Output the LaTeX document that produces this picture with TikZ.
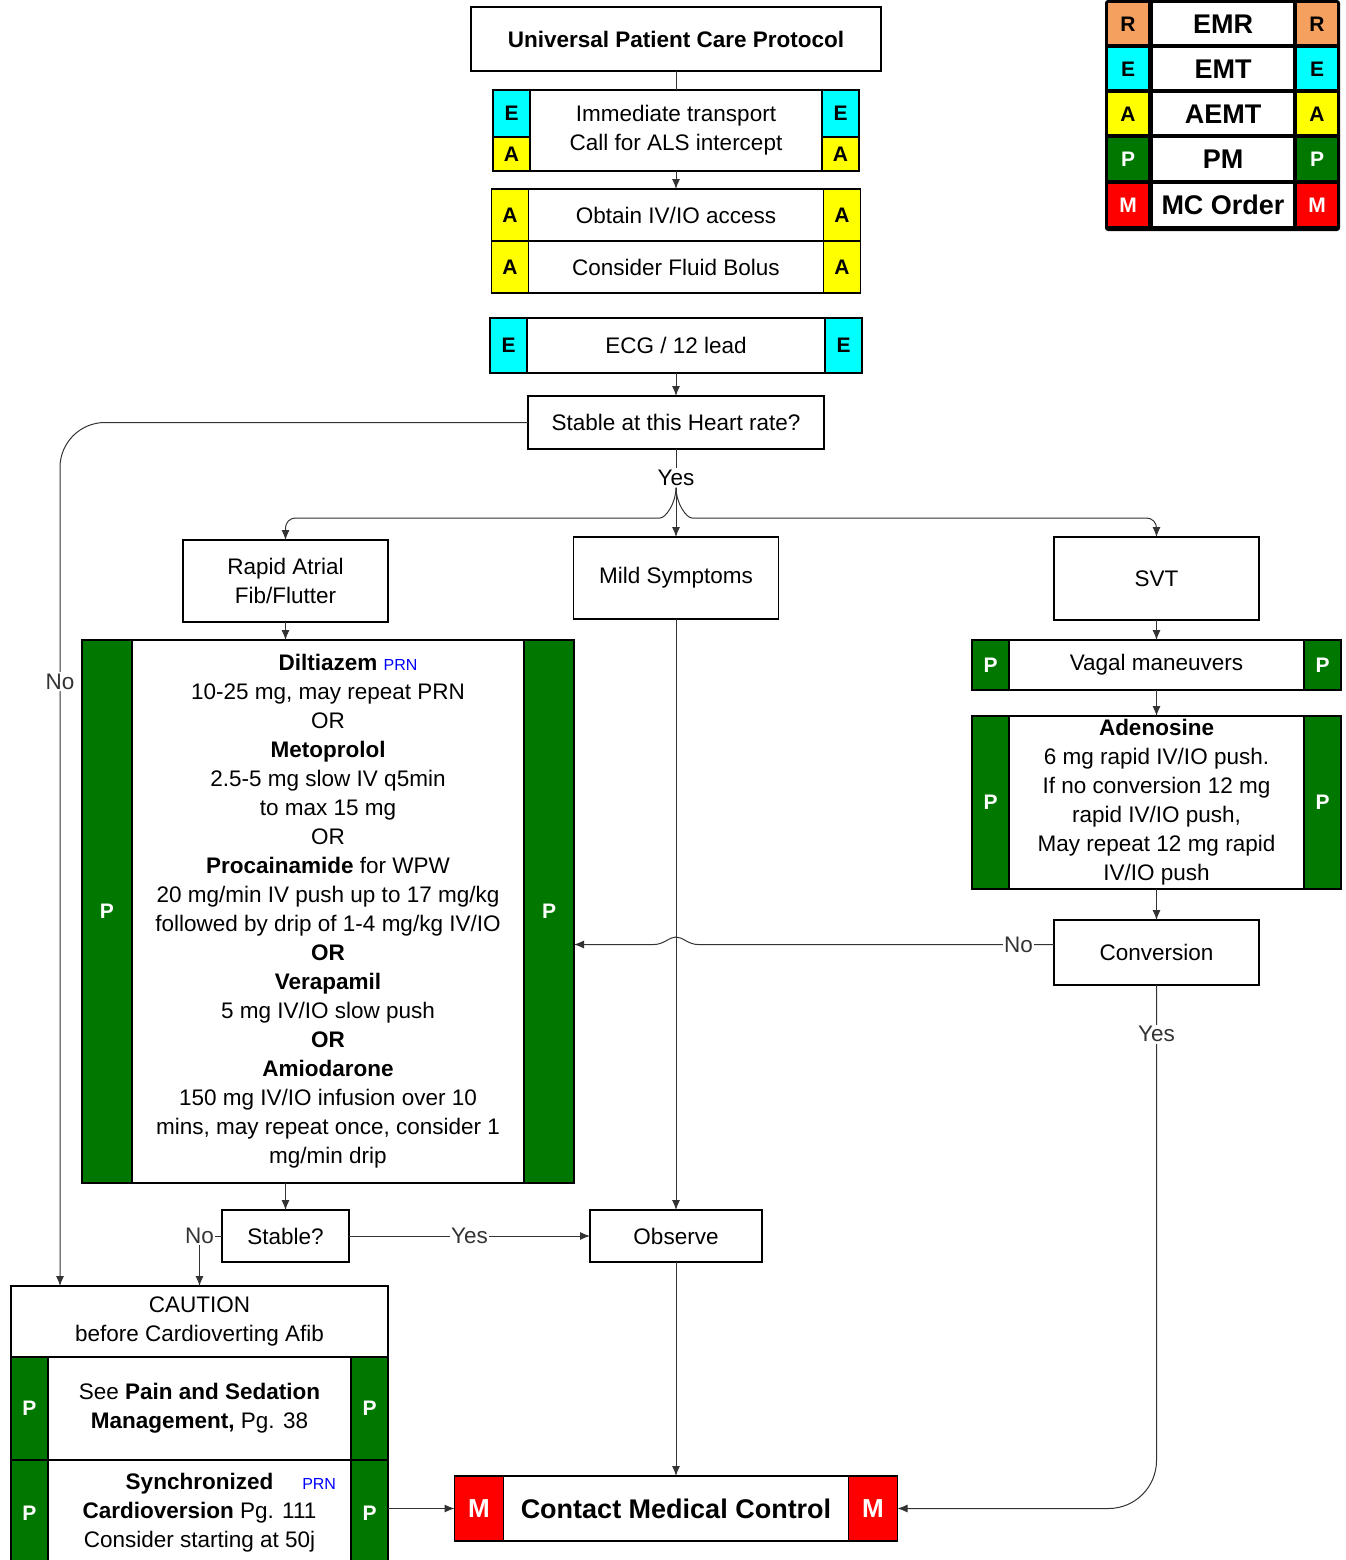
\documentclass[tikz,border=0pt]{standalone}
\usepackage{fontspec}
\setmainfont{Liberation Sans}
\usetikzlibrary{positioning, calc, arrows.meta}
\definecolor{pgreen}{RGB}{0,120,0}
\definecolor{rorange}{RGB}{245,160,95}
\definecolor{ecyan}{RGB}{0,255,255}
\definecolor{ayellow}{RGB}{255,255,0}
\definecolor{mred}{RGB}{255,0,0}
\tikzset{block/.style={draw, line width=1.5pt, fill=white, align=center, inner sep=0pt, outer sep=0pt, font=\fontsize{22.5}{29}\selectfont},
tag/.style={draw, line width=1.5pt, inner sep=0pt, outer sep=0pt, minimum width=37, font=\bfseries\fontsize{21}{21}\selectfont},
keytxt/.style={fill=white, inner sep=0pt, minimum width=140, minimum height=41, font=\bfseries\fontsize{27}{27}\selectfont},
conn/.style={line width=1pt, black!80},
line/.style={conn, -{Latex[length=10pt,width=8pt]}},
lbl/.style={fill=white, sharp corners, inner sep=1.5pt, font=\fontsize{22.5}{27}\selectfont}
}
\newcommand{\prnmark}{{\fontsize{16}{16}\selectfont\color{blue}PRN}}

\begin{document}
\begin{tikzpicture}[x=1pt, y=-1pt]
\useasboundingbox (0,0) rectangle (1345,1560);
% key
\node[fill=black, rounded corners=3pt, minimum width=235, minimum height=231] (key) at (1222.5,115.5) {};
\node[tag, draw=none, fill=rorange, minimum width=40, minimum height=41] (kr1) at (1128,24) {R};
\node[keytxt] (kr) at (1223,24) {EMR};
\node[tag, draw=none, fill=rorange, minimum width=40, minimum height=41] (kr2) at (1317,24) {R};
\node[tag, draw=none, fill=ecyan, minimum width=40, minimum height=41] (ke1) at (1128,69) {E};
\node[keytxt] (ke) at (1223,69) {EMT};
\node[tag, draw=none, fill=ecyan, minimum width=40, minimum height=41] (ke2) at (1317,69) {E};
\node[tag, draw=none, fill=ayellow, minimum width=40, minimum height=41] (ka1) at (1128,114) {A};
\node[keytxt] (ka) at (1223,114) {AEMT};
\node[tag, draw=none, fill=ayellow, minimum width=40, minimum height=41] (ka2) at (1317,114) {A};
\node[tag, draw=none, fill=pgreen, text=white, minimum width=40, minimum height=41] (kp1) at (1128,159) {P};
\node[keytxt] (kp) at (1223,159) {PM};
\node[tag, draw=none, fill=pgreen, text=white, minimum width=40, minimum height=41] (kp2) at (1317,159) {P};
\node[tag, draw=none, fill=mred, text=white, minimum width=40, minimum height=42] (km1) at (1128,205) {M};
\node[keytxt, minimum height=42] (km) at (1223,205) {MC Order};
\node[tag, draw=none, fill=mred, text=white, minimum width=40, minimum height=42] (km2) at (1317,205) {M};

% top column
\node[block, minimum width=410, minimum height=64, font=\bfseries\fontsize{22.5}{27}\selectfont] (upc) at (676,39) {Universal Patient Care Protocol};
\node[block, minimum width=292, minimum height=81] (tr) at (676,130.5) {Immediate transport\\Call for ALS intercept};
\node[tag, fill=ecyan, minimum height=47, anchor=north east] (tr-e1) at (tr.north west) {E};
\node[tag, fill=ayellow, minimum height=34, anchor=north] (tr-a1) at (tr-e1.south) {A};
\node[tag, fill=ecyan, minimum height=47, anchor=north west] (tr-e2) at (tr.north east) {E};
\node[tag, fill=ayellow, minimum height=34, anchor=north] (tr-a2) at (tr-e2.south) {A};
\node[block, minimum width=295, minimum height=52] (iv) at (676,215) {Obtain IV/IO access};
\node[tag, fill=ayellow, minimum height=52, left=0pt of iv] (iv-a1) {A};
\node[tag, fill=ayellow, minimum height=52, right=0pt of iv] (iv-a2) {A};
\node[block, minimum width=295, minimum height=52, below=0pt of iv] (fb) {Consider Fluid Bolus};
\node[tag, fill=ayellow, minimum height=52, left=0pt of fb] (fb-a1) {A};
\node[tag, fill=ayellow, minimum height=52, right=0pt of fb] (fb-a2) {A};
\node[block, minimum width=298, minimum height=55] (ecg) at (676,345.5) {ECG / 12 lead};
\node[tag, fill=ecyan, minimum height=55, left=0pt of ecg] (ecg-e1) {E};
\node[tag, fill=ecyan, minimum height=55, right=0pt of ecg] (ecg-e2) {E};
\node[block, minimum width=296, minimum height=53] (hr) at (676,422.5) {Stable at this Heart rate?};
\node[lbl] (yes1) at (676,478) {Yes};

% branches
\node[block, minimum width=205, minimum height=82] (raf) at (285.5,581) {Rapid Atrial\\Fib/Flutter};
\node[block, minimum width=205, minimum height=82] (mild) at (676,578) {Mild Symptoms};
\node[block, minimum width=205, minimum height=83] (svt) at (1156.5,578.5) {SVT};
\node[block, minimum width=392, minimum height=543] (drug) at (328,911.5) {\textbf{Diltiazem}\rlap{\ \prnmark}\\
10-25 mg, may repeat PRN\\ OR\\ \textbf{Metoprolol}\\ 2.5-5 mg slow IV q5min\\ to max 15 mg\\ OR\\
\textbf{Procainamide} for WPW\\ 20 mg/min IV push up to 17 mg/kg\\ followed by drip of 1-4 mg/kg IV/IO\\
\textbf{OR}\\ \textbf{Verapamil}\\ 5 mg IV/IO slow push\\ \textbf{OR}\\ \textbf{Amiodarone}\\
150 mg IV/IO infusion over 10\\ mins, may repeat once, consider 1\\ mg/min drip};
\node[tag, fill=pgreen, text=white, minimum width=50, minimum height=543, left=0pt of drug] (drug-p1) {P};
\node[tag, fill=pgreen, text=white, minimum width=50, minimum height=543, right=0pt of drug] (drug-p2) {P};
\node[block, minimum width=295, minimum height=50] (vag) at (1156.5,665) {Vagal maneuvers};
\node[tag, fill=pgreen, text=white, minimum height=50, left=0pt of vag] (vag-p1) {P};
\node[tag, fill=pgreen, text=white, minimum height=50, right=0pt of vag] (vag-p2) {P};
\node[block, minimum width=295, minimum height=173] (ade) at (1156.5,802.5) {\textbf{Adenosine}\\ 6 mg rapid IV/IO push.\\
If no conversion 12 mg\\ rapid IV/IO push,\\ May repeat 12 mg rapid\\ IV/IO push};
\node[tag, fill=pgreen, text=white, minimum height=173, left=0pt of ade] (ade-p1) {P};
\node[tag, fill=pgreen, text=white, minimum height=173, right=0pt of ade] (ade-p2) {P};
\node[block, minimum width=205, minimum height=65] (conv) at (1156.5,952.5) {Conversion};

% bottom
\node[block, minimum width=127, minimum height=52] (stab) at (285.5,1236) {Stable?};
\node[block, minimum width=172, minimum height=52] (obs) at (676,1236) {Observe};
\node[block, minimum width=377, minimum height=71] (caut) at (199.5,1321.5) {CAUTION\\before Cardioverting Afib};
\node[block, minimum width=303, minimum height=103, below=0pt of caut] (pain) {See \textbf{Pain and Sedation}\\\textbf{Management,} Pg. 38};
\node[tag, fill=pgreen, text=white, minimum height=103, left=0pt of pain] (pain-p1) {P};
\node[tag, fill=pgreen, text=white, minimum height=103, right=0pt of pain] (pain-p2) {P};
\node[block, minimum width=303, minimum height=106, below=0pt of pain] (sync) {\textbf{Synchronized}\rlap{\hspace{29pt}\prnmark}\\
\textbf{Cardioversion} Pg. 111\\ Consider starting at 50j};
\node[tag, fill=pgreen, text=white, minimum height=106, left=0pt of sync] (sync-p1) {P};
\node[tag, fill=pgreen, text=white, minimum height=106, right=0pt of sync] (sync-r) {P};
\node[block, minimum width=345, minimum height=65, font=\bfseries\fontsize{27}{27}\selectfont] (cmc) at (676,1508.5) {Contact Medical Control};
\node[tag, fill=mred, text=white, minimum width=49, minimum height=65, font=\bfseries\fontsize{26}{26}\selectfont, left=0pt of cmc] (cmc-l) {M};
\node[tag, fill=mred, text=white, minimum width=49, minimum height=65, font=\bfseries\fontsize{26}{26}\selectfont, right=0pt of cmc] (cmc-r) {M};

% connectors
\draw[conn] (upc) -- (tr);
\draw[line] (tr) -- (iv);
\draw[line] (ecg) -- (hr);
\draw[conn] (hr) -- (yes1);
\draw[line] (yes1) -- (mild);
\draw[line, rounded corners=10] (yes1.south) to[out=-90, in=0] (650,518) -| (raf);
\draw[line, rounded corners=10] (yes1.south) to[out=-90, in=180] (702,518) -| (svt);
\draw[line, rounded corners=45] (hr) -| node[lbl, pos=0.65]{No} ([xshift=49]caut.north west);
\draw[line] (raf) -- (raf |- drug.north);
\draw[line] (mild) -- (obs);
\draw[line] (svt) -- (vag);
\draw[line] (vag) -- (ade);
\draw[line] (ade) -- (conv);
\draw[line] ([yshift=8]conv.west) -- node[lbl, pos=0.1]{No} (698,944.5) .. controls (688,944.5) and (683,937) .. (676,937) .. controls (669,937) and (664,944.5) .. (654,944.5) -- ([yshift=-33]drug-p2.east);
\draw[line, rounded corners=48] (conv) |- node[lbl, pos=0.047]{Yes} (cmc-r);
\draw[line] (drug.south -| stab) -- (stab);
\draw[line] (stab) -- node[lbl]{Yes} (obs);
\draw[line] (stab) -| node[lbl, pos=0.5]{No} (caut);
\draw[line] (obs) -- (cmc);
\draw[line] (sync-r.east |- cmc-l) -- (cmc-l);
\end{tikzpicture}
\end{document}
